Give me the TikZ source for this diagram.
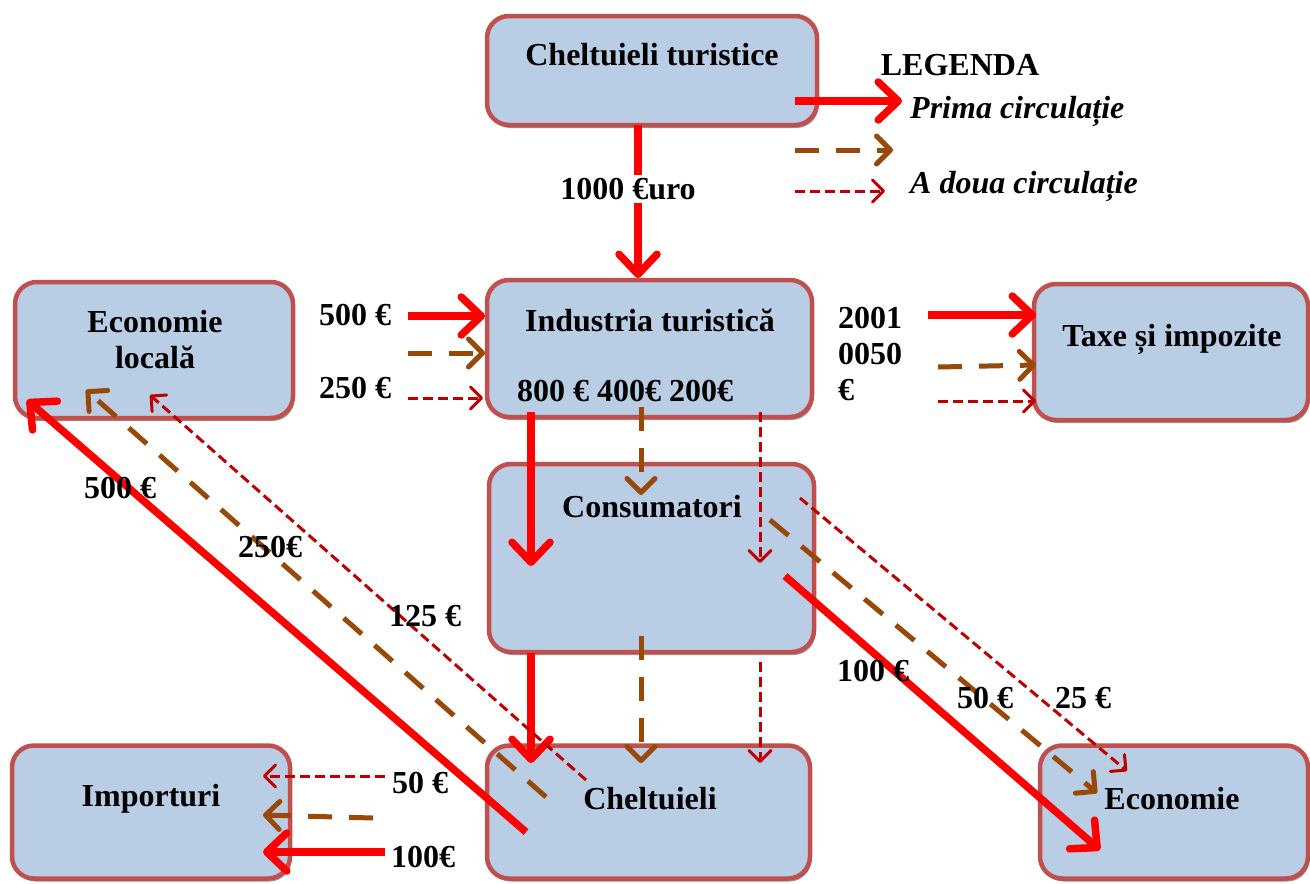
\documentclass[tikz,border=0pt]{standalone}
\usepackage{fontspec}
\setmainfont{Liberation Serif}
\usetikzlibrary{arrows.meta,shadows}
\definecolor{boxfill}{HTML}{B9CDE5}
\definecolor{boxline}{HTML}{C0504D}
\definecolor{brownA}{HTML}{984807}
\definecolor{redB}{HTML}{C00000}
\begin{document}
\begin{tikzpicture}[x=1pt,y=-1pt,
  box/.style={draw=boxline, line width=4.5pt, fill=boxfill, rounded corners=22pt,
    drop shadow={shadow xshift=1.5pt,shadow yshift=-3pt,fill=black!40,opacity=1}},
  lbl/.style={font=\fontsize{32}{36}\selectfont\bfseries, inner sep=0pt, align=center},
  leg/.style={font=\fontsize{32}{36}\selectfont\bfseries\itshape, inner sep=0pt, anchor=west},
  first/.style={draw=red, line width=7.5pt, -{Straight Barb[length=20pt,width=38pt,round,line width=7.5pt]}},
  second/.style={draw=brownA, line width=5pt, dash pattern=on 24pt off 17pt, -{Straight Barb[length=14pt,width=28pt,round,line width=5pt]}},
  third/.style={draw=redB, line width=3pt, dash pattern=on 10pt off 5pt, -{Straight Barb[length=11pt,width=22pt,round,line width=3pt]}},
]
\useasboundingbox (0,0) rectangle (1310,884);

% boxes
\node[box, minimum width=330pt, minimum height=109pt] (ct) at (652,70.5) {};
\node[box, minimum width=325pt, minimum height=137pt] (it) at (649.5,348.5) {};
\node[box, minimum width=278pt, minimum height=136pt] (el) at (154,350) {};
\node[box, minimum width=274pt, minimum height=136pt] (tx) at (1171,352) {};
\node[box, minimum width=325pt, minimum height=188pt] (co) at (651.5,558) {};
\node[box, minimum width=278pt, minimum height=133pt] (im) at (151,812) {};
\node[box, minimum width=323pt, minimum height=133pt] (ch) at (648.5,812) {};
\node[box, minimum width=268pt, minimum height=133pt] (ec) at (1174,812) {};

% box texts
\node[lbl] (ctT) at (652,55) {Cheltuieli turistice};
\node[lbl] (itT) at (650,320) {Industria turistică};
\node[lbl] (elT) at (155,340) {Economie\\locală};
\node[lbl] (txT) at (1172,339) {Taxe și impozite};
\node[lbl] (coT) at (652,507) {Consumatori};
\node[lbl] (imT) at (151,799) {Importuri};
\node[lbl] (chT) at (650,799) {Cheltuieli};
\node[lbl] (ecT) at (1172,799) {Economie};

% legend
\node[lbl] (legT) at (960,65) {LEGENDA};
\node[leg] (leg1) at (910,111) {Prima circulație};
\node[leg] (leg3) at (910,186) {A doua circulație};
\coordinate (l1a) at (795,101); \coordinate (l1b) at (902,101);
\coordinate (l2a) at (795,150); \coordinate (l2b) at (893,150);
\coordinate (l3a) at (795,191); \coordinate (l3b) at (885,191);
\draw[first] (l1a) -- (l1b);
\draw[second] (l2a) -- (l2b);
\draw[third] (l3a) -- (l3b);

% top flow
\draw[first] (638,125) -- node[lbl, fill=white, inner sep=3pt, pos=0.42, xshift=-10pt] (lbl1000) {1000 €uro} (638,278);

% inflow to industria
\draw[first] (408,316) -- (485,316);
\draw[second] (408,353) -- (485,353);
\draw[third] (408,398) -- (483,398);

% outflow to taxe
\draw[first] (928,315) -- (1036,315);
\draw[second] (938,367) -- (1036,365);
\draw[third] (938,401) -- (1036,401);

% industria -> consumatori
\draw[first] (531,412) -- (531,566);
\draw[second] (641,407) -- (641,495);
\draw[third] (760,412) -- (760,563);

% consumatori -> cheltuieli
\draw[first] (531,653) -- (531,763);
\draw[second] (641,636) -- (641,763);
\draw[third] (760,662) -- (760,763);

% cheltuieli -> economie locala
\draw[first] (526,832) -- (27,400);
\draw[second] (546,797) -- (86,390);
\draw[third] (586,780) -- (150,395);

% cheltuieli -> importuri
\draw[third] (385,776) -- (263,776);
\draw[second] (373,818) -- (263,815);
\draw[first] (385,852) -- (263,852);

% consumatori -> economie
\draw[third] (800,498) -- (1127,771);
\draw[second] (770,520) -- (1097,793);
\draw[first] (785,576) -- (1100,850);

% value labels
\node[lbl] (v500) at (355,315) {500 €};
\node[lbl] (v250) at (355,388) {250 €};
\node[lbl, anchor=west] (v800) at (517,391) {800 € 400€ 200€};
\node[lbl, anchor=west, align=left] (v2001) at (838,354) {2001\\0050\\€};
\node[lbl] (d500) at (120,488) {500 €};
\node[lbl] (d250) at (270,547) {250€};
\node[lbl] (d125) at (425,616) {125 €};
\node[lbl] (d100) at (873,671) {100 €};
\node[lbl] (d50) at (985,698) {50 €};
\node[lbl] (d25) at (1083,698) {25 €};
\node[lbl] (i50) at (420,783) {50 €};
\node[lbl] (i100) at (423,857) {100€};
\end{tikzpicture}
\end{document}
